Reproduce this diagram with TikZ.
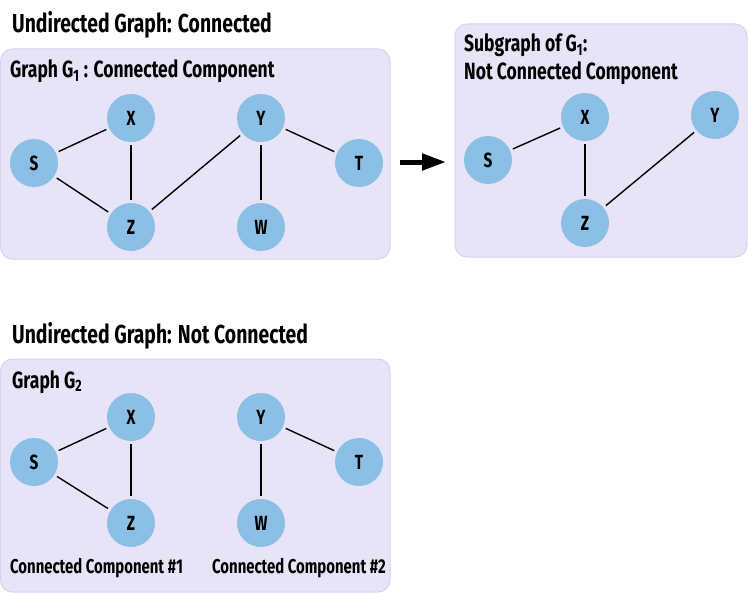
\documentclass[tikz,border=0pt]{standalone}
\usepackage{fontspec}
\setmainfont{Fira Sans}[FakeStretch=0.745]
\usetikzlibrary{arrows.meta}
\definecolor{boxfill}{HTML}{E6E4F6}
\definecolor{boxedge}{HTML}{D6D3EE}
\definecolor{nodefill}{HTML}{8CBFE6}
\tikzset{
  vert/.style={circle, fill=nodefill, minimum size=48pt, inner sep=0pt, font=\fontsize{20.5}{20}\selectfont\bfseries},
  panel/.style={rounded corners=12pt, fill=boxfill, draw=boxedge, line width=1pt},
  link/.style={line width=1.4pt, shorten >=3pt, shorten <=3pt},
  bigtitle/.style={anchor=base west, inner sep=0pt, font=\fontsize{26}{26}\selectfont\bfseries},
  subtitle/.style={anchor=base west, inner sep=0pt, font=\fontsize{23.5}{28}\selectfont\bfseries},
  captext/.style={anchor=base west, inner sep=0pt, font=\fontsize{20}{20}\selectfont\bfseries}
}
\begin{document}
\begin{tikzpicture}[x=1pt, y=-1pt]
\useasboundingbox (0,0) rectangle (748,594);
% panels
\draw[panel] (0.5,49) rectangle (390,259);
\draw[panel] (455,24) rectangle (747,257);
\draw[panel] (0.5,359) rectangle (390,592);
% titles
\node[bigtitle] (t1) at (12,33) {Undirected Graph: Connected};
\node[subtitle] (s1) at (10,78) {Graph G\textsubscript{1} : Connected Component};
\node[subtitle] (s2) at (464,52) {Subgraph of G\textsubscript{1}:};
\node[subtitle] (s2b) at (464,80) {Not Connected Component};
\node[bigtitle] (t2) at (12,343) {Undirected Graph: Not Connected};
\node[subtitle] (s3) at (12,388) {Graph G\textsubscript{2}};
\node[captext] (c1) at (10,573) {Connected Component \#1};
\node[captext] (c2) at (212,573) {Connected Component \#2};
% graph 1
\node[vert] (aS) at (34,163) {S};
\node[vert] (aX) at (131,118) {X};
\node[vert] (aZ) at (131,227) {Z};
\node[vert] (aY) at (261,118) {Y};
\node[vert] (aW) at (261,227) {W};
\node[vert] (aT) at (359,163) {T};
\draw[link] (aS) -- (aX);
\draw[link] (aS) -- (aZ);
\draw[link] (aX) -- (aZ);
\draw[link] (aZ) -- (aY);
\draw[link] (aY) -- (aW);
\draw[link] (aY) -- (aT);
% subgraph
\node[vert] (bS) at (488,160) {S};
\node[vert] (bX) at (585,117) {X};
\node[vert] (bZ) at (585,223) {Z};
\node[vert] (bY) at (715,115) {Y};
\draw[link] (bS) -- (bX);
\draw[link] (bX) -- (bZ);
\draw[link] (bZ) -- (bY);
% arrow
\coordinate (ar1) at (400,162);
\coordinate (ar2) at (446,162);
\draw[line width=5pt, -{Triangle[length=24pt, width=16pt]}] (ar1) -- (ar2);
% graph 2
\node[vert] (cS) at (34,462) {S};
\node[vert] (cX) at (131,417) {X};
\node[vert] (cZ) at (131,523) {Z};
\node[vert] (cY) at (261,417) {Y};
\node[vert] (cW) at (261,523) {W};
\node[vert] (cT) at (359,462) {T};
\draw[link] (cS) -- (cX);
\draw[link] (cS) -- (cZ);
\draw[link] (cX) -- (cZ);
\draw[link] (cY) -- (cW);
\draw[link] (cY) -- (cT);
\end{tikzpicture}
\end{document}
